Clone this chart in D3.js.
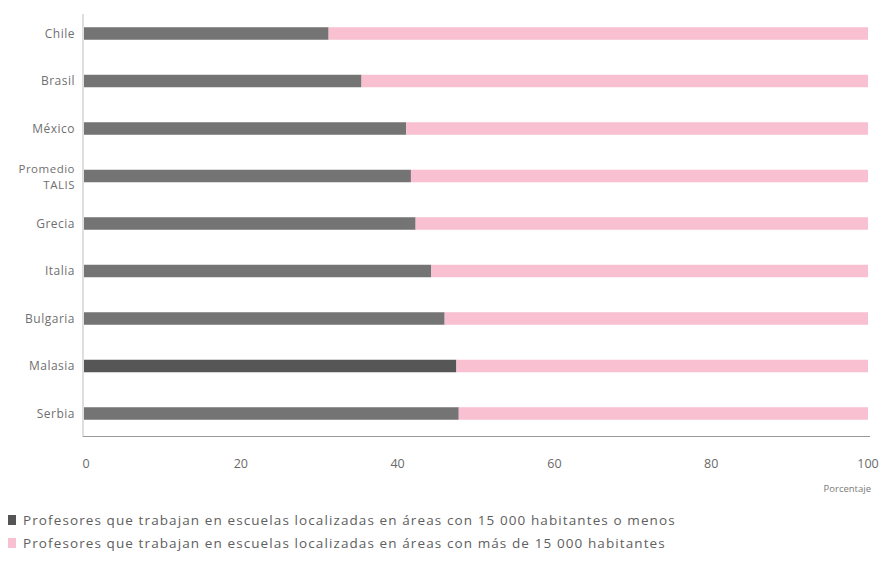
<!DOCTYPE html>
<html><head><meta charset="utf-8">
<script src="https://cdn.jsdelivr.net/npm/d3@7"></script>
<style>
body{margin:0;background:#fff;}
text{font-family:"Open Sans","Noto Sans",sans-serif;}
</style></head>
<body>
<svg id="c" width="884" height="572"></svg>
<script>
const categories = ["Chile","Brasil","México","Promedio TALIS","Grecia","Italia","Bulgaria","Malasia","Serbia"];
const smallAreas = [31.2, 35.4, 41.1, 41.7, 42.3, 44.3, 46.0, 47.5, 47.8];
const largeAreas = smallAreas.map(v => 100 - v);
const xTicks = [0, 20, 40, 60, 80, 100];
const seriesNames = [
  "Profesores que trabajan en escuelas localizadas en áreas con 15 000 habitantes o menos",
  "Profesores que trabajan en escuelas localizadas en áreas con más de 15 000 habitantes"
];
const highlighted = ["Malasia"];
const xTitle = "Porcentaje";

const colors = ["#747474", "#f8c0d1"];
const highlightColor = "#565656";

const svg = d3.select("#c");
const x = d3.scaleLinear().domain([0, 100]).range([84, 868]);
const y = d3.scalePoint().domain(categories).range([33.5, 413.5]);
const barH = 12.5;

// axes lines
svg.append("line").attr("x1", 83).attr("x2", 83).attr("y1", 14).attr("y2", 437)
  .attr("stroke", "#bdbdbd").attr("stroke-width", 1);
svg.append("line").attr("x1", 83).attr("x2", x(100) + 2).attr("y1", 436.5).attr("y2", 436.5)
  .attr("stroke", "#9a9a9a").attr("stroke-width", 1);

// bars
const g = svg.append("g");
g.selectAll("rect.s").data(categories).join("rect")
  .attr("x", x(0)).attr("y", d => y(d) - barH / 2)
  .attr("width", (d, i) => x(smallAreas[i]) - x(0))
  .attr("height", barH)
  .attr("fill", d => highlighted.includes(d) ? highlightColor : colors[0]);
g.selectAll("rect.l").data(categories).join("rect")
  .attr("x", (d, i) => x(smallAreas[i])).attr("y", d => y(d) - barH / 2)
  .attr("width", (d, i) => x(smallAreas[i] + largeAreas[i]) - x(smallAreas[i]))
  .attr("height", barH)
  .attr("fill", colors[1]);

// category labels
const lab = svg.append("g").attr("font-size", 12).attr("letter-spacing", 0.5)
  .attr("fill", "#707070").attr("text-anchor", "end");
categories.forEach(c => {
  const cy = y(c);
  if (c === "Promedio TALIS") {
    lab.append("text").attr("x", 75).attr("y", cy - 3).attr("font-size", 11.5).text("Promedio");
    lab.append("text").attr("x", 75).attr("y", cy + 13).attr("font-size", 11.5).text("TALIS");
  } else {
    lab.append("text").attr("x", 75).attr("y", cy + 4).text(c);
  }
});

// x ticks
const xa = svg.append("g").attr("font-size", 12.5).attr("fill", "#6a6a6a").attr("text-anchor", "middle");
xTicks.forEach(t => {
  xa.append("text").attr("x", x(t) + (t === 0 ? 2 : 0)).attr("y", 468).text(t);
});
svg.append("text").attr("x", x(100) + 3).attr("y", 492).attr("text-anchor", "end")
  .attr("font-size", 9.5).attr("fill", "#7a7a7a").text(xTitle);

// legend
const lg = svg.append("g");
seriesNames.forEach((s, i) => {
  const ly = 525 + i * 23;
  lg.append("rect").attr("x", 8).attr("y", ly - 10).attr("width", 8).attr("height", 10)
    .attr("fill", i === 0 ? "#555" : colors[1]);
  lg.append("text").attr("x", 23).attr("y", ly).attr("font-size", 13.5)
    .attr("letter-spacing", 1.1).attr("fill", "#606060").text(s);
});
</script>
</body></html>
